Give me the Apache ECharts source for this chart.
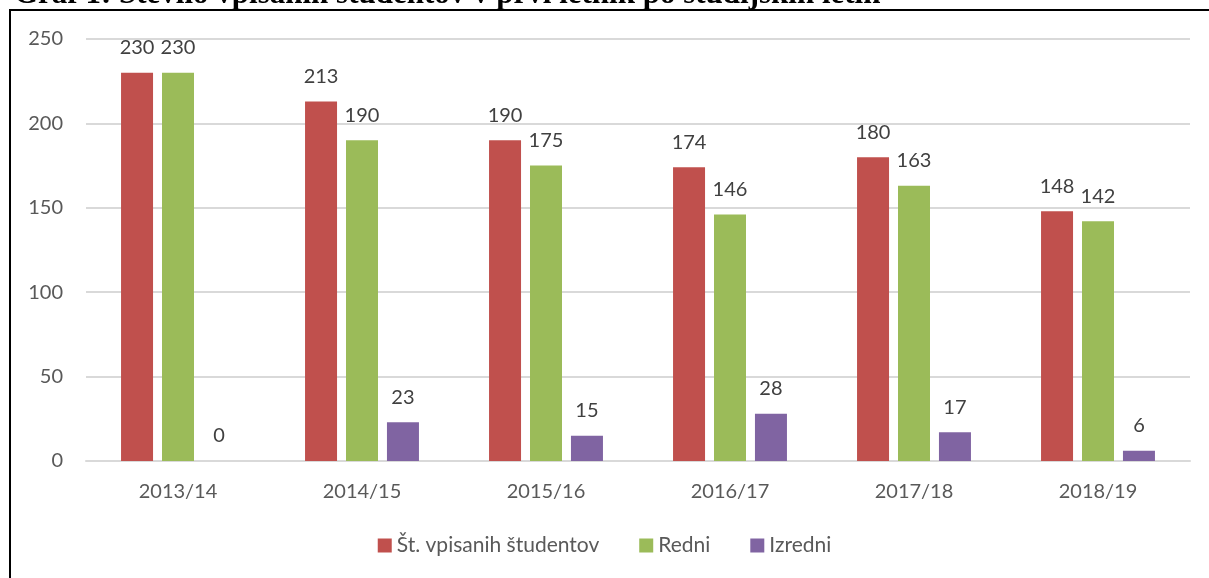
<!DOCTYPE html>
<html>
<head>
<meta charset="utf-8">
<script src="https://cdn.jsdelivr.net/npm/echarts@6/dist/echarts.min.js"></script>
<style>
  html, body { margin: 0; padding: 0; background: #fff; }
  #chart { width: 1209px; height: 578px; }
</style>
</head>
<body>
<div id="chart"></div>
<script>
var years = ["2013/14", "2014/15", "2015/16", "2016/17", "2017/18", "2018/19"];
var vpisani = [230, 213, 190, 174, 180, 148];
var redni = [230, 190, 175, 146, 163, 142];
var izredni = [0, 23, 15, 28, 17, 6];
var yTicks = [0, 50, 100, 150, 200, 250];

var font = "Lato, 'Open Sans', sans-serif";
var chart = echarts.init(document.getElementById("chart"));

function barSeries(name, data, color) {
  return {
    name: name,
    type: "bar",
    data: data,
    barWidth: 32,
    barGap: "28%",
    itemStyle: { color: color },
    label: {
      show: true,
      position: "top",
      distance: 15,
      color: "#404040",
      fontFamily: font,
      fontSize: 20
    }
  };
}

var option = {
  animation: false,
  graphic: [{
    type: "text",
    x: 14,
    y: 10,
    silent: true,
    style: {
      text: "Graf 1: Število vpisanih študentov v prvi letnik po študijskih letih",
      fontFamily: "'Liberation Serif', 'DejaVu Serif', serif",
      fontWeight: "bold",
      fontSize: 31,
      fill: "#000",
      verticalAlign: "bottom"
    }
  }, {
    type: "rect",
    shape: { x: 10, y: 10, width: 1300, height: 700 },
    style: { fill: "#fff", stroke: "#000", lineWidth: 2 },
    z: -1,
    silent: true
  }],
  grid: { left: 86, right: 19, top: 39, bottom: 117 },
  legend: {
    bottom: 17,
    left: "center",
    itemWidth: 14,
    itemHeight: 14,
    itemGap: 40,
    icon: "rect",
    textStyle: { color: "#595959", fontFamily: font, fontSize: 21 },
    data: ["Št. vpisanih študentov", "Redni", "Izredni"]
  },
  xAxis: {
    type: "category",
    data: years,
    axisLine: { lineStyle: { color: "#d9d9d9", width: 2 } },
    axisTick: { show: false },
    axisLabel: { color: "#595959", fontFamily: font, fontSize: 20, margin: 21 }
  },
  yAxis: {
    type: "value",
    min: yTicks[0],
    max: yTicks[yTicks.length - 1],
    interval: 50,
    axisLine: { show: false },
    axisTick: { show: false },
    splitLine: { lineStyle: { color: "#d9d9d9", width: 2 } },
    axisLabel: { color: "#595959", fontFamily: font, fontSize: 20, margin: 23 }
  },
  series: [
    barSeries("Št. vpisanih študentov", vpisani, "#c0504d"),
    barSeries("Redni", redni, "#9bbb59"),
    barSeries("Izredni", izredni, "#8064a2")
  ]
};
chart.setOption(option);
</script>
</body>
</html>
